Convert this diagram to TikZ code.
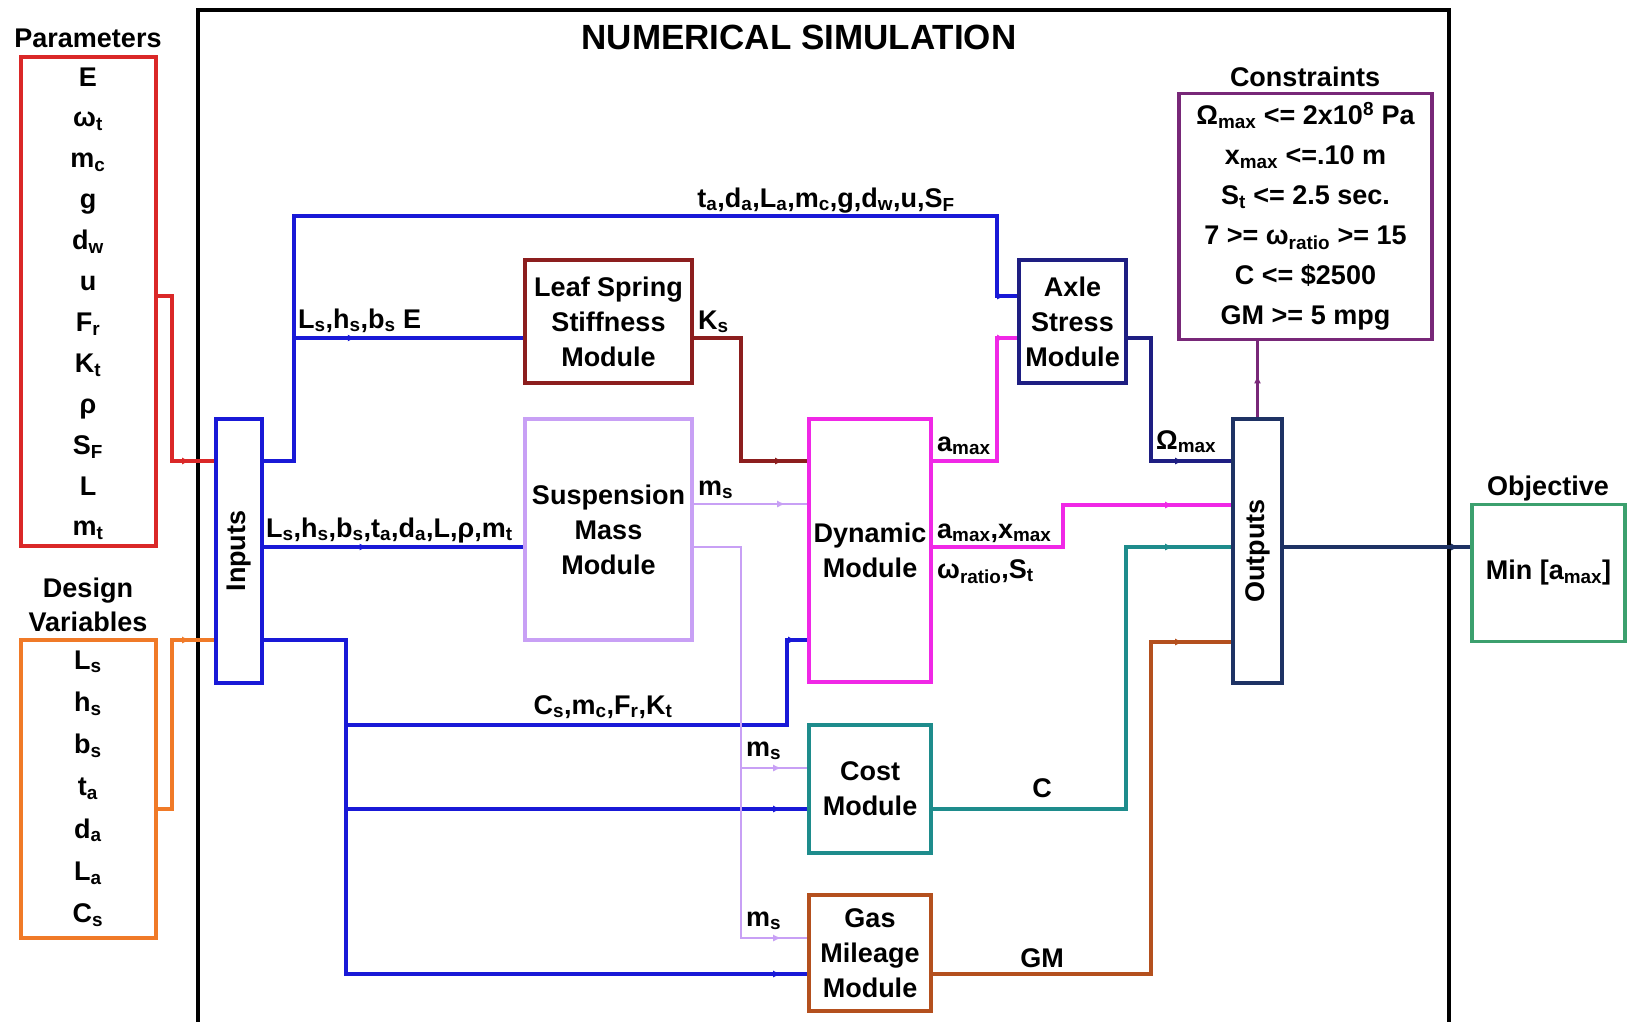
\documentclass[tikz,border=0pt]{standalone}
\usepackage{fontspec}
\setmainfont{Liberation Sans}
\usetikzlibrary{arrows.meta,decorations.markings}

\definecolor{parred}{RGB}{218,40,40}
\definecolor{desorange}{RGB}{240,122,40}
\definecolor{wireblue}{RGB}{25,25,215}
\definecolor{leafred}{RGB}{140,30,30}
\definecolor{susplav}{RGB}{200,160,245}
\definecolor{dynmag}{RGB}{240,40,230}
\definecolor{axlenavy}{RGB}{30,30,130}
\definecolor{outnavy}{RGB}{30,50,100}
\definecolor{conspurple}{RGB}{120,40,120}
\definecolor{objgreen}{RGB}{60,160,110}
\definecolor{costteal}{RGB}{30,140,140}
\definecolor{gasbrown}{RGB}{180,80,30}

\newcommand{\sbs}[1]{\textsubscript{#1}}

\tikzset{
  box/.style={draw,line width=3.6pt,align=center,inner sep=0pt},
  wire/.style={line width=3.4pt},
  thinwire/.style={line width=2.2pt},
  flowtip/.style={postaction={decorate},decoration={markings,
    mark=at position #1 with {\arrow{Latex[length=8pt,width=7pt]}}}},
}

\begin{document}
\begin{tikzpicture}[x=1pt,y=-1pt,inner sep=0pt,font=\fontsize{27}{35}\selectfont\bfseries]
\fill[white] (0,0) rectangle (1631,1021);
\useasboundingbox (0,0) rectangle (1631,1021);

% simulation frame
\draw[line width=3.8pt] (198,1030) -- (198,10) -- (1449,10) -- (1449,1030);
\node[anchor=base,font=\fontsize{35}{40}\selectfont\bfseries] (title) at (799,49) {NUMERICAL SIMULATION};

% parameters and design variables
\node[anchor=base] (parlbl) at (88,47) {Parameters};
\node[box,draw=parred,minimum width=135pt,minimum height=489pt] (par) at (88.5,301.5) {};
\foreach \txt [count=\i] in {E,ω\sbs{t},m\sbs{c},g,d\sbs{w},u,F\sbs{r},K\sbs{t},ρ,S\sbs{F},L,m\sbs{t}}
  \node[anchor=base] (par\i) at (88,{86+40.9*(\i-1)}) {\txt};
\node[align=center,font=\fontsize{27}{34}\selectfont\bfseries] (deslbl) at (88,605) {Design\\Variables};
\node[box,draw=desorange,minimum width=135pt,minimum height=298pt] (design) at (88.5,789) {};
\foreach \txt [count=\i] in {L\sbs{s},h\sbs{s},b\sbs{s},t\sbs{a},d\sbs{a},L\sbs{a},C\sbs{s}}
  \node[anchor=base] (dv\i) at (88,{669+42.3*(\i-1)}) {\txt};

% modules
\node[box,draw=wireblue,minimum width=46pt,minimum height=264pt] (inputs) at (239,551) {};
\node[rotate=90] (inlbl) at (inputs.center) {Inputs};
\node[box,draw=leafred,minimum width=167pt,minimum height=123pt] (leaf) at (608.5,321.5) {Leaf Spring\\Stiffness\\Module};
\node[box,draw=susplav,minimum width=167pt,minimum height=221pt] (susp) at (608.5,529.5) {Suspension\\Mass\\Module};
\node[box,draw=dynmag,minimum width=122pt,minimum height=263pt] (dyn) at (870,550.5) {Dynamic\\Module};
\node[box,draw=axlenavy,minimum width=107pt,minimum height=123pt] (axle) at (1072.5,321.5) {Axle\\Stress\\Module};
\node[box,draw=costteal,minimum width=122pt,minimum height=128pt] (cost) at (870,789) {Cost\\Module};
\node[box,draw=gasbrown,minimum width=122pt,minimum height=116pt] (gas) at (870,953) {Gas\\Mileage\\Module};
\node[box,draw=outnavy,minimum width=49pt,minimum height=264pt] (outputs) at (1257.5,551) {};
\node[rotate=90] (outlbl) at (outputs.center) {Outputs};

% constraints and objective
\node[anchor=base] (conslbl) at (1305,86) {Constraints};
\node[box,draw=conspurple,minimum width=253pt,minimum height=246pt,font=\fontsize{27}{40}\selectfont\bfseries] (cons) at (1305.5,216.5)
  {Ω\sbs{max} <= 2x10\textsuperscript{8} Pa\\x\sbs{max} <=.10 m\\S\sbs{t} <= 2.5 sec.\\7 >= ω\sbs{ratio} >= 15\\C <= \$2500\\GM >= 5 mpg};
\node[anchor=base] (objlbl) at (1548,495) {Objective};
\node[box,draw=objgreen,minimum width=153pt,minimum height=137pt] (obj) at (1548.5,573) {Min [a\sbs{max}]};

% split points
\coordinate (splitA) at (294,338);
\coordinate (splitB) at (346,725);
\coordinate (splitC) at (346,809);
\coordinate (splitD) at (741,768);

% connectors
\draw[wire,parred,flowtip=-24pt] (par.east |- 0,296) -| (172,461) -- (inputs.west |- 0,461);
\draw[wire,desorange,flowtip=-24pt] (design.east |- 0,809) -| (172,640) -- (inputs.west |- 0,640);
\draw[wire,wireblue,flowtip=-12pt] (inputs.east |- 0,461) -| (294,216) -| (997,296) -- (axle.west |- 0,296);
\draw[wire,wireblue,flowtip=0.27] (splitA) -- (leaf.west |- splitA);
\draw[wire,wireblue,flowtip=0.4] (inputs.east |- 0,547) -- (susp.west |- 0,547);
\draw[wire,wireblue,flowtip=-26pt] (inputs.east |- 0,640) -| (346,974) -- (gas.west |- 0,974);
\draw[wire,wireblue,flowtip=-11pt] (splitB) -| (787,640) -- (dyn.west |- 0,640);
\draw[wire,wireblue,flowtip=-26pt] (splitC) -- (cost.west |- splitC);
\draw[wire,leafred,flowtip=-24pt] (leaf.east |- 0,338) -| (741,461) -- (dyn.west |- 0,461);
\draw[thinwire,susplav,flowtip=-22pt] (susp.east |- 0,504) -- (dyn.west |- 0,504);
\draw[thinwire,susplav,flowtip=-26pt] (susp.east |- 0,547) -| (741,938) -- (gas.west |- 0,938);
\draw[thinwire,susplav,flowtip=-26pt] (splitD) -- (cost.west |- splitD);
\draw[wire,dynmag,flowtip=-12pt] (dyn.east |- 0,461) -| (997,338) -- (axle.west |- 0,338);
\draw[wire,dynmag,flowtip=-58pt] (dyn.east |- 0,547) -| (1063,505) -- (outputs.west |- 0,505);
\draw[wire,axlenavy,flowtip=-48pt] (axle.east |- 0,338) -| (1151,461) -- (outputs.west |- 0,461);
\draw[wire,costteal,flowtip=-58pt] (cost.east |- 0,809) -| (1126,547) -- (outputs.west |- 0,547);
\draw[wire,gasbrown,flowtip=-48pt] (gas.east |- 0,974) -| (1151,642) -- (outputs.west |- 0,642);
\draw[wire,conspurple,flowtip=0.55] (outputs.north) -- (outputs.north |- cons.south);
\draw[wire,outnavy,flowtip=-11pt] (outputs.east |- 0,547) -- (obj.west |- 0,547);

% connector labels
\node[anchor=base] (lblaxle) at (826,207) {t\sbs{a},d\sbs{a},L\sbs{a},m\sbs{c},g,d\sbs{w},u,S\sbs{F}};
\node[anchor=base west] (lblleaf) at (298,328) {L\sbs{s},h\sbs{s},b\sbs{s} E};
\node[anchor=base west] (lblsusp) at (266,537) {L\sbs{s},h\sbs{s},b\sbs{s},t\sbs{a},d\sbs{a},L,ρ,m\sbs{t}};
\node[anchor=base west] (lblks) at (698,329) {K\sbs{s}};
\node[anchor=base west] (lblmsdyn) at (698,495) {m\sbs{s}};
\node[anchor=base west] (lblamax) at (937,451) {a\sbs{max}};
\node[anchor=base west] (lblax) at (937,538) {a\sbs{max},x\sbs{max}};
\node[anchor=base west] (lblws) at (937,578) {ω\sbs{ratio},S\sbs{t}};
\node[anchor=base west] (lblom) at (1156,449) {Ω\sbs{max}};
\node[anchor=base] (lblcs) at (603,714) {C\sbs{s},m\sbs{c},F\sbs{r},K\sbs{t}};
\node[anchor=base west] (lblmscost) at (746,756) {m\sbs{s}};
\node[anchor=base west] (lblmsgas) at (746,926) {m\sbs{s}};
\node[anchor=base] (lblc) at (1042,797) {C};
\node[anchor=base] (lblgm) at (1042,967) {GM};
\end{tikzpicture}
\end{document}
